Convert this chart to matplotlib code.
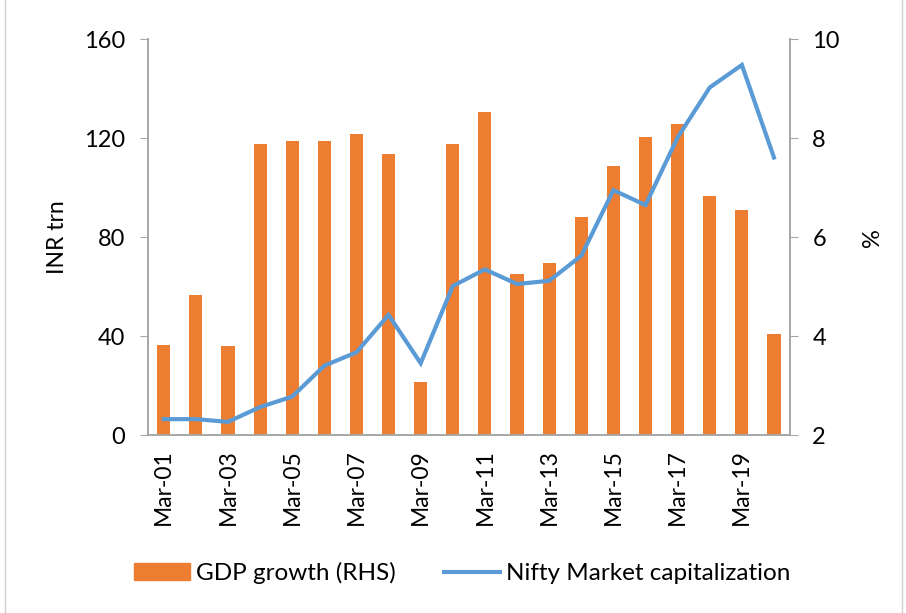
import matplotlib
matplotlib.use("Agg")
import matplotlib.pyplot as plt
from matplotlib.patches import Rectangle, Patch
from matplotlib.lines import Line2D
import numpy as np

plt.rcParams['font.family'] = ['Lato', 'DejaVu Sans']

years = ["Mar-%02d" % y for y in range(1, 21)]
gdp_growth = [3.83, 4.83, 3.80, 7.89, 7.94, 7.94, 8.09, 7.68, 3.08, 7.89,
              8.52, 5.25, 5.47, 6.41, 7.44, 8.03, 8.29, 6.83, 6.55, 4.05]
nifty_mcap = [6.5, 6.5, 5.4, 11.4, 15.6, 28.1, 33.5, 48.6, 29.1, 60.3,
              67.0, 61.1, 62.4, 72.5, 99.0, 93.0, 120.3, 140.5, 149.6, 112.2]
left_ticks = [0, 40, 80, 120, 160]
right_ticks = [2, 4, 6, 8, 10]

orange = "#ED7D31"
blue = "#5B9BD5"
gray = "#A6A6A6"

fig = plt.figure(figsize=(9.06, 6.13), dpi=100)
ax = fig.add_axes([0.163, 0.290, 0.709, 0.646])
x = np.arange(len(years))
axl = ax.twinx()

# bars on right-hand axis
ax.bar(x, [g - 2 for g in gdp_growth], bottom=2, width=0.41, color=orange)
ax.set_ylim(2, 10)
ax.set_yticks(right_ticks)
ax.yaxis.tick_right()
ax.yaxis.set_label_position("right")
ax.set_ylabel("%", fontsize=17, labelpad=16)
ax.set_xlim(-0.5, len(years) - 0.5)
ax.set_xticks(x[::2])
ax.set_xticklabels(years[::2], rotation=90, fontsize=16.5)
ax.tick_params(axis='x', length=0, pad=10)
ax.tick_params(axis='y', length=6, color=gray, labelsize=17, pad=10)

# line on left-hand axis
axl.plot(x, nifty_mcap, color=blue, linewidth=3.0, solid_joinstyle='miter')
axl.set_ylim(0, 160)
axl.set_yticks(left_ticks)
axl.yaxis.tick_left()
axl.yaxis.set_label_position("left")
axl.set_ylabel("INR trn", fontsize=16.5, labelpad=12)
axl.tick_params(axis='y', length=6, color=gray, labelsize=17, pad=10)
axl.set_xlim(-0.5, len(years) - 0.5)

for a in (ax, axl):
    a.spines['top'].set_visible(False)
    for s in ('left', 'right', 'bottom'):
        a.spines[s].set_color(gray)
        a.spines[s].set_linewidth(1.2)

handles = [Patch(color=orange), Line2D([0], [0], color=blue, linewidth=3.0)]
fig.legend(handles, ["GDP growth (RHS)", "Nifty Market capitalization"],
           loc='center', bbox_to_anchor=(0.51, 0.065), ncol=2, frameon=False,
           fontsize=17.5, handlelength=2.3, columnspacing=2.0, handletextpad=0.25)

fig.patches.append(Rectangle((0.006, -0.01), 0.99, 1.02, transform=fig.transFigure,
                             fill=False, edgecolor="#D0D0D0", linewidth=1))

fig.savefig("out.png", dpi=100)
